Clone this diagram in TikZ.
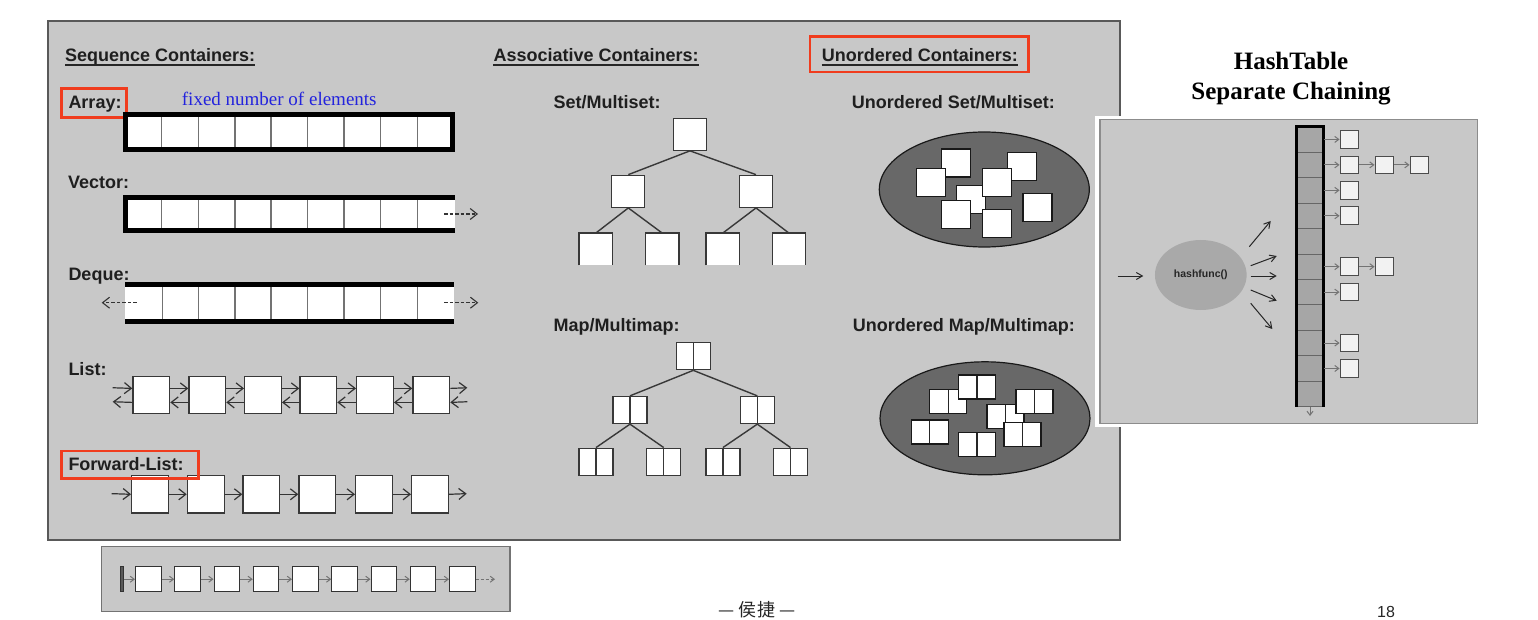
\documentclass[tikz,border=0pt]{standalone}
\usepackage{fontspec}
\setmainfont{Liberation Sans}
\newfontfamily\serifface{Liberation Serif}
\newfontfamily\cjkface{Noto Sans CJK SC}
\usetikzlibrary{arrows.meta,shapes.geometric}
\definecolor{panelgray}{HTML}{C8C8C8}
\definecolor{redc}{HTML}{F03C1E}
\definecolor{ovalgray}{HTML}{686868}
\definecolor{bucketgray}{HTML}{A6A6A6}
\definecolor{hashgray}{HTML}{A9A9A9}
\definecolor{bluetext}{HTML}{2323DD}
\definecolor{chainfill}{HTML}{F2F2F2}
\begin{document}
\begin{tikzpicture}[x=1pt,y=-1pt,
  lbl/.style={font=\fontsize{18}{21}\selectfont\bfseries, text=black!88, anchor=base west, inner sep=0pt},
  redbox/.style={draw=redc, line width=2.8pt},
  sq/.style={draw=black!78, fill=white, line width=1.3pt, inner sep=0pt},
  dbox/.style={sq, minimum width=34pt, minimum height=27pt,
    path picture={\draw[line width=1.3pt, black!78] (path picture bounding box.north) -- (path picture bounding box.south);}},
  ubox/.style={draw=black!90, fill=white, line width=1.3pt, inner sep=0pt, minimum width=29pt, minimum height=28pt},
  udbox/.style={draw=black!90, fill=white, line width=1.2pt, inner sep=0pt, minimum width=37pt, minimum height=24pt,
    path picture={\draw[line width=1.2pt, black!85] (path picture bounding box.north) -- (path picture bounding box.south);}},
  arr/.style={-{Straight Barb[length=7pt,width=11pt]}, line width=1.2pt, black!80},
  darr/.style={-{Straight Barb[length=7pt,width=11pt]}, line width=1.1pt, black!80, dash pattern=on 3.5pt off 2pt},
  sep/.style={draw=black!55, line width=1.2pt},
  heavy/.style={line width=5pt, black},
  tedge/.style={line width=1.4pt, black!78},
  harr/.style={-{Straight Barb[length=6pt,width=7pt]}, line width=1pt, black!85},
  carr/.style={-{Straight Barb[length=4pt,width=6pt]}, line width=1pt, black!55},
  bucket/.style={fill=bucketgray, draw=black!60, line width=0.8pt, inner sep=0pt, minimum width=26.6pt, minimum height=25.45pt},
  chain/.style={fill=chainfill, draw=black!70, line width=1pt, inner sep=0pt, minimum width=18.3pt, minimum height=17.7pt},
  stripbox/.style={draw=black!80, fill=white, line width=1pt, inner sep=0pt, minimum width=25.7pt, minimum height=25pt, anchor=west}
]
\useasboundingbox (0,0) rectangle (1538,620);
\fill[white] (0,0) rectangle (1538,620);

% ---------------- main panel ----------------
\draw[fill=panelgray, draw=black!65, line width=1.5pt] (48,21) rectangle (1120,540);

% headings
\node[lbl] (h1) at (65,61.5) {Sequence Containers:};
\node[lbl] (h2) at (493.3,61.5) {Associative Containers:};
\node[lbl] (h3) at (821.7,61.5) {Unordered Containers:};
\foreach \h in {h1,h2,h3}
  \draw[line width=1.8pt, black!85] ([yshift=-3.2pt]\h.base west) -- ([yshift=-3.2pt]\h.base east);
\draw[redbox] (810,36.5) rectangle (1028.5,72);

% ---------------- Array ----------------
\node[lbl] (arrayl) at (68.3,108.3) {Array:};
\draw[redbox] (61.5,88.5) rectangle (126.5,117.5);
\node[font=\serifface\fontsize{19}{21}\selectfont, text=bluetext, anchor=base west, inner sep=0pt] (fixed) at (181.7,105.7) {fixed number of elements};
\fill[white] (123.3,111.7) rectangle (455,151.7);
\foreach \x in {161.7,198.3,235,271,307.7,344,380.7,417.3}
  \draw[sep] (\x,113) -- (\x,150);
\draw[heavy] (125.8,114.2) rectangle (452.5,149.2);

% ---------------- Vector ----------------
\node[lbl] (vectorl) at (68,188.3) {Vector:};
\fill[white] (123.3,195) rectangle (455,233.3);
\foreach \x in {161.7,198.3,235,271,307.7,344,380.7,417.3}
  \draw[sep] (\x,196) -- (\x,232);
\draw[heavy] (455,197.5) -- (125.8,197.5) -- (125.8,230.8) -- (455,230.8);
\coordinate (vs) at (444,214);
\coordinate (ve) at (478,214);
\draw[darr] (vs) -- (ve);

% ---------------- Deque ----------------
\node[lbl] (dequel) at (68.3,280) {Deque:};
\fill[white] (125,284) rectangle (454,322);
\foreach \x in {162.3,198.3,235,271,307.7,344,380.7,417.3}
  \draw[sep] (\x,285) -- (\x,321);
\draw[heavy] (125,284.8) -- (454,284.8);
\draw[heavy] (125,321.8) -- (454,321.8);
\coordinate (dls) at (136.7,302.7);
\coordinate (dle) at (101.7,302.7);
\coordinate (drs) at (444,302.7);
\coordinate (dre) at (478.3,302.7);
\draw[darr] (dls) -- (dle);
\draw[darr] (drs) -- (dre);

% ---------------- List ----------------
\node[lbl] (listl) at (68.3,375) {List:};
\foreach \x [count=\i] in {132.3,188.3,244,299.3,356,412.3}
  \node[sq, minimum width=36.7pt, minimum height=36.7pt, anchor=north west] (L\i) at (\x,376) {};
\coordinate (Lin) at (112.7,394.35);
\coordinate (Lout) at (467.3,394.35);
\draw[arr] ([yshift=6.6pt]Lin) -- ([yshift=6.6pt]L1.west);
\draw[arr] ([yshift=-7.4pt]L1.west) -- ([yshift=-7.4pt]Lin);
\foreach \i/\j in {1/2,2/3,3/4,4/5,5/6}{
  \draw[arr] ([yshift=6.6pt]L\i.east) -- ([yshift=6.6pt]L\j.west);
  \draw[arr] ([yshift=-7.4pt]L\j.west) -- ([yshift=-7.4pt]L\i.east);
}
\draw[arr] ([yshift=6.6pt]L6.east) -- ([yshift=6.6pt]Lout);
\draw[arr] ([yshift=-7.4pt]Lout) -- ([yshift=-7.4pt]L6.east);

% ---------------- Forward list ----------------
\foreach \x [count=\i] in {131,186.7,242.3,298.3,355,411}
  \node[sq, minimum width=36.8pt, minimum height=37.3pt, anchor=north west] (F\i) at (\x,475) {};
\node[lbl] (fwdl) at (68.3,470) {Forward-List:};
\draw[redbox] (61.5,451) rectangle (198.5,478.5);
\coordinate (Fin) at (111.7,493.65);
\coordinate (Fout) at (466.7,493.65);
\draw[arr] (Fin) -- (F1.west);
\foreach \i/\j in {1/2,2/3,3/4,4/5,5/6}
  \draw[arr] (F\i.east) -- (F\j.west);
\draw[arr] (F6.east) -- (Fout);

% ---------------- Set / Multiset tree ----------------
\node[lbl] (setl) at (553.3,108.3) {Set/Multiset:};
\node[sq, minimum width=33pt, minimum height=32pt] (sr) at (690,134.2) {};
\node[sq, minimum width=33pt, minimum height=32pt] (s2a) at (628.3,191.3) {};
\node[sq, minimum width=33pt, minimum height=32pt] (s2b) at (756,191.3) {};
\foreach \n/\x in {s3a/595.7,s3b/662.3,s3c/722.7,s3d/789}{
  \node[fill=white, inner sep=0pt, minimum width=33pt, minimum height=31.7pt] (\n) at (\x,249.2) {};
  \draw[line width=1.3pt, black!78] (\n.south west) -- (\n.north west) -- (\n.north east) -- (\n.south east);
}
\draw[tedge] (sr.south) -- (s2a.north);
\draw[tedge] (sr.south) -- (s2b.north);
\draw[tedge] (s2a.south) -- (s3a.north);
\draw[tedge] (s2a.south) -- (s3b.north);
\draw[tedge] (s2b.south) -- (s3c.north);
\draw[tedge] (s2b.south) -- (s3d.north);

% ---------------- Map / Multimap tree ----------------
\node[lbl] (mapl) at (553.3,331.7) {Map/Multimap:};
\node[dbox] (mr) at (693.3,356.2) {};
\node[dbox] (m2a) at (630,410) {};
\node[dbox] (m2b) at (757.3,410) {};
\node[dbox] (m3a) at (596,461.7) {};
\node[dbox] (m3b) at (663.7,461.7) {};
\node[dbox] (m3c) at (722.9,461.7) {};
\node[dbox] (m3d) at (790.5,461.7) {};
\draw[tedge] (mr.south) -- (m2a.north);
\draw[tedge] (mr.south) -- (m2b.north);
\draw[tedge] (m2a.south) -- (m3a.north);
\draw[tedge] (m2a.south) -- (m3b.north);
\draw[tedge] (m2b.south) -- (m3c.north);
\draw[tedge] (m2b.south) -- (m3d.north);

% ---------------- Unordered set ----------------
\node[lbl] (usetl) at (851.7,108.3) {Unordered Set/Multiset:};
\node[ellipse, fill=ovalgray, draw=black!90, line width=1.2pt, minimum width=210pt, minimum height=115pt, inner sep=0pt] (uset) at (984.3,189.5) {};
\node[ubox] (u1) at (956.2,163) {};
\node[ubox] (u5) at (971.3,199.5) {};
\node[ubox] (u2) at (930.8,182.2) {};
\node[ubox] (u3) at (1022.2,166.7) {};
\node[ubox] (u4) at (997,182.5) {};
\node[ubox] (u6) at (955.8,214.2) {};
\node[ubox] (u7) at (1037.5,207.2) {};
\node[ubox] (u8) at (997,223.5) {};

% ---------------- Unordered map ----------------
\node[lbl] (umapl) at (852.7,331.7) {Unordered Map/Multimap:};
\node[ellipse, fill=ovalgray, draw=black!90, line width=1.2pt, minimum width=210pt, minimum height=113pt, inner sep=0pt] (umap) at (985,418.3) {};
\node[udbox] (d1) at (948.3,401.7) {};
\node[udbox] (d2) at (977,387) {};
\node[udbox] (d3) at (1005.5,416.7) {};
\node[udbox] (d4) at (1034.5,401.7) {};
\node[udbox] (d5) at (929.8,432) {};
\node[udbox] (d6) at (977,444.7) {};
\node[udbox] (d7) at (1022.5,434.7) {};

% ---------------- HashTable ----------------
\node[font=\serifface\fontsize{25}{28}\selectfont\bfseries, anchor=base, inner sep=0pt] (ht1) at (1291,70) {HashTable};
\node[font=\serifface\fontsize{25}{28}\selectfont\bfseries, anchor=base, inner sep=0pt] (ht2) at (1291,100) {Separate Chaining};
\fill[white] (1095,116) rectangle (1481,427);
\draw[fill=panelgray, draw=black!45, line width=1.2pt] (1100,119.3) rectangle (1477.7,423.3);

\node[ellipse, fill=hashgray, draw=none, minimum width=91.7pt, minimum height=70pt, inner sep=0pt,
  font=\fontsize{10.5}{12}\selectfont\bfseries, text=black!85] (hf) at (1200.8,275) {hashfunc()};
\coordinate (hin) at (1117.7,276);
\coordinate (hinE) at (1143.3,276);
\draw[harr] (hin) -- (hinE);
\coordinate (o1s) at (1249.3,246.7); \coordinate (o1e) at (1270.7,221);
\coordinate (o2s) at (1250.7,265.7); \coordinate (o2e) at (1276.7,256);
\coordinate (o3s) at (1250.7,276);   \coordinate (o3e) at (1276.7,276);
\coordinate (o4s) at (1250.7,290);   \coordinate (o4e) at (1276.7,300.7);
\coordinate (o5s) at (1250.7,303.3); \coordinate (o5e) at (1272.3,329);
\foreach \k in {1,...,5}
  \draw[harr] (o\k s) -- (o\k e);

\foreach \i in {0,...,10}
  \node[bucket] (b\i) at (1310,{126.7+25.45*(\i+0.5)}) {};
\draw[line width=3pt, black] (1296.7,406.7) -- (1296.7,126.7) -- (1323.3,126.7) -- (1323.3,406.7);
\coordinate (bdown) at (1310,416);
\draw[carr] (b10.south) -- (bdown);

\foreach \i in {0,1,2,3,5,6,8,9}{
  \node[chain] (c\i) at (1349.2,{126.7+25.45*(\i+0.5)}) {};
  \draw[carr] (b\i.east) -- (c\i.west);
}
\node[chain] (c1b) at (1384.2,{126.7+25.45*1.5}) {};
\node[chain] (c1c) at (1419.2,{126.7+25.45*1.5}) {};
\node[chain] (c5b) at (1384.2,{126.7+25.45*5.5}) {};
\draw[carr] (c1.east) -- (c1b.west);
\draw[carr] (c1b.east) -- (c1c.west);
\draw[carr] (c5.east) -- (c5b.west);

% ---------------- bottom strip ----------------
\draw[fill=panelgray, draw=black!55, line width=1.5pt] (101.7,546.7) rectangle (510,611.7);
\node[fill=black!65, draw=black!80, line width=0.6pt, minimum width=3.3pt, minimum height=25pt, inner sep=0pt] (sbar) at (121.7,579.2) {};
\foreach \i in {1,...,9}
  \node[stripbox] (S\i) at ({135+39.25*(\i-1)},579.2) {};
\draw[carr] (sbar.east) -- (S1.west);
\foreach \i/\j in {1/2,2/3,3/4,4/5,5/6,6/7,7/8,8/9}
  \draw[carr] (S\i.east) -- (S\j.west);
\coordinate (sEnd) at (495,579.2);
\draw[carr, dash pattern=on 3pt off 2pt] (S9.east) -- (sEnd);

% ---------------- footer ----------------
\node[font=\cjkface\fontsize{18}{20}\selectfont, text=black!85, anchor=base, inner sep=0pt] (foot) at (757,616.5) {— 侯捷 —};
\node[font=\fontsize{16}{18}\selectfont, text=black!85, anchor=base, inner sep=0pt] (pg) at (1386,617) {18};
\end{tikzpicture}
\end{document}
